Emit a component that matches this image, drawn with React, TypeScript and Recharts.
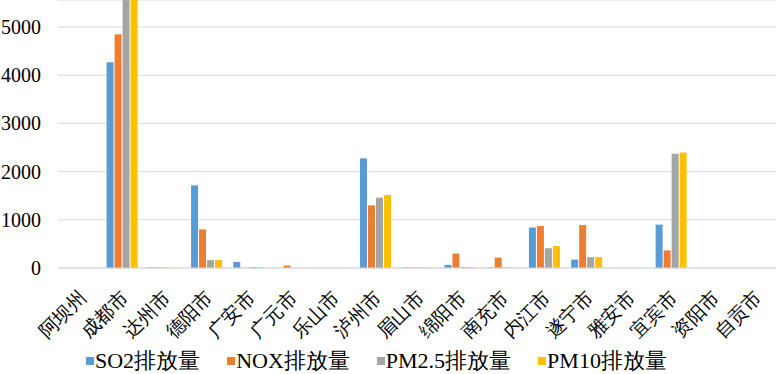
import React from 'react'
import { BarChart, Bar, XAxis, YAxis, CartesianGrid, Legend } from 'recharts'

const cities = [
  '阿坝州', '成都市', '达州市', '德阳市', '广安市', '广元市', '乐山市', '泸州市', '眉山市',
  '绵阳市', '南充市', '内江市', '遂宁市', '雅安市', '宜宾市', '资阳市', '自贡市',
]

const so2 = [0, 4270, 15, 1715, 125, 0, 0, 2275, 10, 65, 10, 840, 175, 0, 900, 0, 0]
const nox = [0, 4850, 10, 800, 5, 50, 0, 1300, 10, 300, 215, 870, 890, 0, 365, 0, 0]
const pm25 = [0, 5900, 8, 165, 20, 0, 0, 1460, 10, 20, 10, 410, 225, 0, 2370, 0, 0]
const pm10 = [0, 6000, 5, 165, 20, 0, 0, 1515, 10, 20, 5, 455, 225, 0, 2395, 0, 0]

const yTicks = [0, 1000, 2000, 3000, 4000, 5000]

const series = [
  { key: 'so2', name: 'SO2排放量', color: '#5B9BD5' },
  { key: 'nox', name: 'NOX排放量', color: '#ED7D31' },
  { key: 'pm25', name: 'PM2.5排放量', color: '#A5A5A5' },
  { key: 'pm10', name: 'PM10排放量', color: '#FFC000' },
]

const data = cities.map((city, i) => ({
  city,
  so2: so2[i],
  nox: nox[i],
  pm25: pm25[i],
  pm10: pm10[i],
}))

const FONT = 'Liberation Serif'

// rotated category labels, Excel style (end of the text sits under the tick)
const CityTick = (props: any) => {
  const { x, y, payload } = props
  const tx = x + 8
  const ty = y + 23
  return (
    <g transform={`translate(${tx},${ty}) rotate(-45)`}>
      <text x={0} y={0} textAnchor="end" fontSize={19} fontFamily={FONT} fill="#000">
        {payload.value}
      </text>
    </g>
  )
}

const ValueTick = (props: any) => {
  const { y, payload } = props
  return (
    <g>
      <text x={41} y={y + 7} textAnchor="end" fontSize={20} fontFamily={FONT} fill="#000">
        {payload.value}
      </text>
    </g>
  )
}

const LegendRow = () => (
  <div
    style={{
      display: 'flex',
      alignItems: 'center',
      height: 26,
      paddingLeft: 86,
      gap: 27,
      fontFamily: FONT,
      fontSize: 22,
      lineHeight: '26px',
      color: '#000',
      whiteSpace: 'nowrap',
    }}
  >
    {series.map((s) => (
      <div key={s.key} style={{ display: 'flex', alignItems: 'center' }}>
        <span style={{ width: 8, height: 8, background: s.color, marginRight: 1 }} />
        <span>{s.name}</span>
      </div>
    ))}
  </div>
)

export default function App() {
  return (
    <div
      style={{
        position: 'absolute',
        left: 0,
        top: 0,
        width: 776,
        height: 374,
        background: '#fff',
        fontFamily: FONT,
      }}
    >
      <BarChart
        width={776}
        height={374}
        data={data}
        margin={{ top: 0, right: 0, left: 0, bottom: 0 }}
        barCategoryGap="15%"
        barGap={1}
        style={{ fontFamily: FONT }}
      >
        <CartesianGrid vertical={false} stroke="#D9D9D9" />
        <XAxis
          dataKey="city"
          interval={0}
          height={80}
          tick={CityTick}
          tickLine={false}
          axisLine={{ stroke: '#D9D9D9' }}
        />
        <YAxis
          width={58}
          domain={[0, 5560]}
          ticks={yTicks}
          allowDataOverflow
          tick={ValueTick}
          tickLine={false}
          axisLine={false}
        />
        <Legend verticalAlign="bottom" content={() => <LegendRow />} wrapperStyle={{ height: 26 }} />
        {series.map((s) => (
          <Bar key={s.key} dataKey={s.key} name={s.name} fill={s.color} isAnimationActive={false} />
        ))}
      </BarChart>
    </div>
  )
}
